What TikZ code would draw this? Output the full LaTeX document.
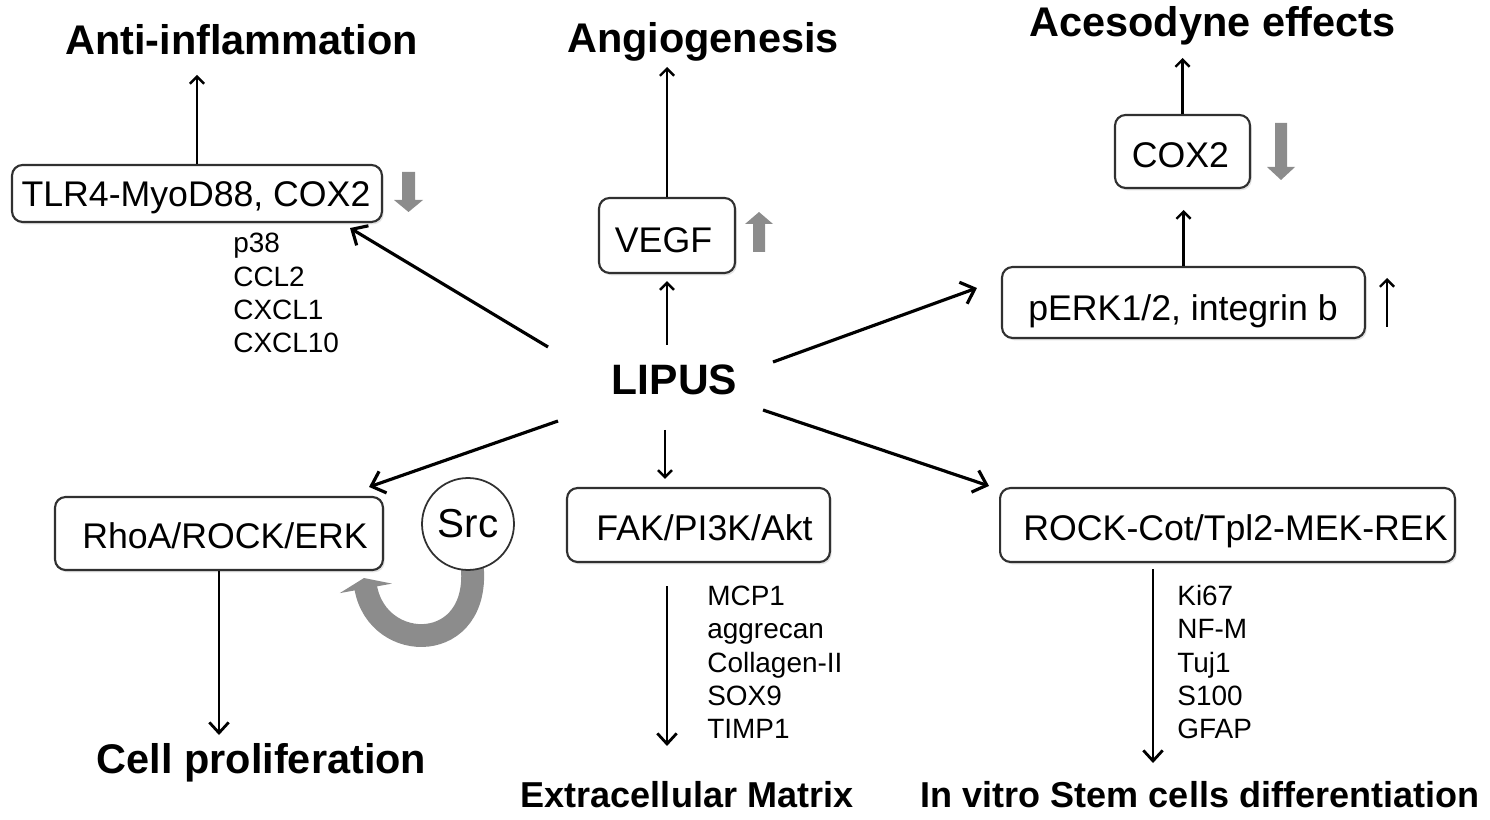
\documentclass[tikz,border=0pt]{standalone}
\usepackage{fontspec}
\setmainfont{Liberation Sans}
\usetikzlibrary{arrows.meta,shadows,backgrounds}
\definecolor{arrowgray}{HTML}{8C8C8C}
\definecolor{boxline}{HTML}{303030}
\begin{document}
\begin{tikzpicture}[x=0.02cm,y=-0.02cm,
  box/.style={draw=boxline, line width=1.2pt, rounded corners=6pt, fill=white, inner sep=0pt,
    drop shadow={opacity=0.22, shadow xshift=1pt, shadow yshift=-1.3pt}},
  boxtext/.style={font=\fontsize{20.3}{24}\selectfont, inner sep=0pt, anchor=base},
  titletext/.style={font=\fontsize{23.6}{28}\selectfont\bfseries, inner sep=0pt, anchor=base},
  subtitletext/.style={font=\fontsize{20.5}{24}\selectfont\bfseries, inner sep=0pt, anchor=base},
  lipustext/.style={font=\fontsize{24.2}{28}\selectfont\bfseries, inner sep=0pt, anchor=base},
  gene/.style={font=\fontsize{15.9}{19}\selectfont, inner sep=0pt, anchor=base west},
  bigarr/.style={line width=1.8pt, -{Straight Barb[length=7pt,width=13pt]}},
  downarr/.style={line width=1.6pt, -{Straight Barb[length=6pt,width=11pt]}},
  smallarr/.style={line width=1.4pt, -{Straight Barb[length=4pt,width=8pt]}}
]
\useasboundingbox (0,0) rectangle (1490,820);

% ---------- boxes ----------
\node[box, minimum width=7.40cm, minimum height=1.14cm] (tlr) at (197,193.5) {};
\node[boxtext] (tlrt) at (196,207) {TLR4-MyoD88, COX2};
\node[box, minimum width=2.72cm, minimum height=1.50cm] (vegf) at (667,235.5) {};
\node[boxtext] (vegft) at (663.5,253) {VEGF};
\node[box, minimum width=2.70cm, minimum height=1.46cm] (cox) at (1182.5,151.5) {};
\node[boxtext] (coxt) at (1180.5,168) {COX2};
\node[box, minimum width=7.26cm, minimum height=1.42cm] (perk) at (1183.5,302.5) {};
\node[boxtext] (perkt) at (1183,321) {pERK1/2, integrin b};
\node[box, minimum width=6.56cm, minimum height=1.46cm] (rho) at (219,533.5) {};
\node[boxtext] (rhot) at (225,548) {RhoA/ROCK/ERK};
\node[box, minimum width=5.26cm, minimum height=1.48cm] (fak) at (698.5,525) {};
\node[boxtext] (fakt) at (704.5,540) {FAK/PI3K/Akt};
\node[box, minimum width=9.10cm, minimum height=1.48cm] (rock) at (1227.5,525) {};
\node[boxtext] (rockt) at (1235.5,540) {ROCK-Cot/Tpl2-MEK-REK};

\node[circle, draw=boxline, line width=1pt, fill=white, minimum size=1.84cm, inner sep=0pt,
  font=\fontsize{23}{27}\selectfont] (src) at (468,524) {Src};

% ---------- titles ----------
\node[titletext] (anti) at (241.5,55) {Anti-inflammation};
\node[titletext] (angio) at (703,53) {Angiogenesis};
\node[titletext] (aces) at (1212.5,37) {Acesodyne effects};
\node[lipustext] (lipus) at (674.5,395) {LIPUS};
\node[titletext] (cellp) at (261.5,773) {Cell proliferation};
\node[subtitletext] (ecm) at (687,807) {Extracellular Matrix};
\node[subtitletext] (stem) at (1200,807) {In vitro Stem cells differentiation};

% ---------- gene lists ----------
\node[gene] (ga1) at (233,253) {p38};
\node[gene] (ga2) at (233,287) {CCL2};
\node[gene] (ga3) at (233,320) {CXCL1};
\node[gene] (ga4) at (233,353) {CXCL10};

\node[gene] (gb1) at (707,605) {MCP1};
\node[gene] (gb2) at (707,638) {aggrecan};
\node[gene] (gb3) at (707,672) {Collagen-II};
\node[gene] (gb4) at (707,705) {SOX9};
\node[gene] (gb5) at (707,738) {TIMP1};

\node[gene] (gc1) at (1177,605) {Ki67};
\node[gene] (gc2) at (1177,638) {NF-M};
\node[gene] (gc3) at (1177,672) {Tuj1};
\node[gene] (gc4) at (1177,705) {S100};
\node[gene] (gc5) at (1177,738) {GFAP};

% ---------- coordinates ----------
\coordinate (antitip) at (197,75);
\coordinate (angiotip) at (667,67);
\coordinate (acestip) at (1182.5,58);
\coordinate (coxtip) at (1183.5,210);
\coordinate (celltip) at (219,735);
\coordinate (ecmtip) at (667,746);
\coordinate (stemtip) at (1153,763);
\coordinate (lA) at (548,347);
\coordinate (lB) at (773,362);
\coordinate (lC) at (558,421);
\coordinate (lD) at (763,410);
\coordinate (lE) at (667,345);
\coordinate (lF) at (665,430);
\coordinate (upbot) at (1387,327);
\coordinate (uptop) at (1387,278);

% ---------- connectors ----------
\draw[smallarr] (tlr.north) -- (antitip);
\draw[smallarr] (vegf.north) -- (angiotip);
\draw[smallarr] (cox.north) -- (acestip);
\draw[smallarr] (perk.north) -- (coxtip);
\draw[smallarr] (lE) -- ([shift={(0,7)}]vegf.south);
\draw[smallarr] (lF) -- ([shift={(-33.5,-8)}]fak.north);

\draw[bigarr] (lA) -- ([shift={(-33,5)}]tlr.south east);
\draw[bigarr] (lB) -- ([shift={(-24,-14.5)}]perk.west);
\draw[bigarr] (lC) -- ([shift={(-15,-9)}]rho.north east);
\draw[bigarr] (lD) -- ([shift={(-10,-1)}]rock.north west);

\draw[downarr] (rho.south) -- (celltip);
\draw[downarr] ([shift={(-31.5,23)}]fak.south) -- (ecmtip);
\draw[downarr] ([shift={(-74.5,6)}]rock.south) -- (stemtip);

\draw[smallarr] (upbot) -- (uptop);

% ---------- gray indicator arrows ----------
\fill[arrowgray] (402,172) -- (415,172) -- (415,200) -- (423,200) -- (408.5,212) -- (394,200) -- (402,200) -- cycle;
\fill[arrowgray] (753,252) -- (765,252) -- (765,224) -- (773,224) -- (759,212) -- (745,224) -- (753,224) -- cycle;
\fill[arrowgray] (1275,123) -- (1287,123) -- (1287,167) -- (1295,167) -- (1281,180) -- (1267,167) -- (1275,167) -- cycle;

\begin{scope}[on background layer]
\draw[arrowgray, line width=13pt, -{Triangle[length=6pt,width=30pt]}]
  ([shift={(4,40)}]src.center) .. controls (482,655) and (378,655) .. (364,578);
\end{scope}
\end{tikzpicture}
\end{document}
